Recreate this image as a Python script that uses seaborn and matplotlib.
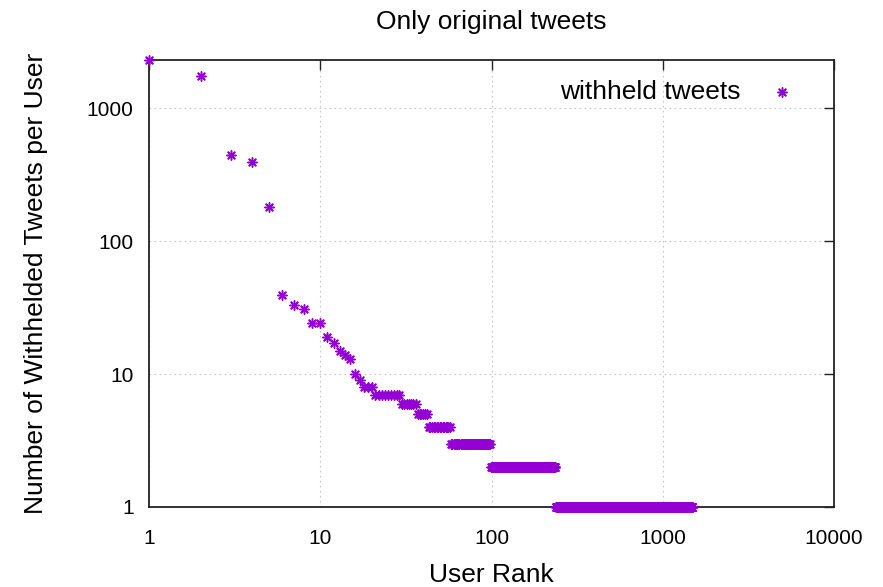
import numpy as np
import pandas as pd
import matplotlib
matplotlib.use("Agg")
import matplotlib.pyplot as plt
import seaborn as sns
from matplotlib.ticker import FixedLocator, NullLocator

# Withheld tweets of the most affected users, in rank order
top_user_counts = [2300, 1740, 443, 393, 180, 39, 33, 31, 24, 24,
                   19, 17, 15, 14, 13, 10, 9, 8, 8, 8]
# Remaining users share small counts: value -> number of users with it
tied_values = [7, 6, 5, 4, 3, 2, 1]
tied_users = [9, 7, 6, 15, 41, 138, 1244]

x_ticks = [1, 10, 100, 1000, 10000]
x_tick_labels = ["1", "10", "100", "1000", "10000"]
y_ticks = [1, 10, 100, 1000]
y_tick_labels = ["1", "10", "100", "1000"]

counts = np.concatenate([top_user_counts, np.repeat(tied_values, tied_users)])
df = pd.DataFrame({"rank": np.arange(1, len(counts) + 1), "count": counts})

sns.set_theme(style="white")
plt.rcParams["font.family"] = ["Liberation Sans", "DejaVu Sans"]
plt.rcParams["text.color"] = "black"
plt.rcParams["axes.labelcolor"] = "black"
plt.rcParams["xtick.color"] = "black"
plt.rcParams["ytick.color"] = "black"

fig = plt.figure(figsize=(8.83, 5.87), dpi=100)
ax = fig.add_axes([149 / 883, 1 - 507 / 587, (834 - 149) / 883, (507 - 60) / 587])

purple = "#9400D3"
sns.scatterplot(data=df, x="rank", y="count", ax=ax, marker=(8, 2, 0),
                color=purple, edgecolor=purple, s=45, linewidth=1.1,
                label="withheld tweets", clip_on=False, zorder=3)

ax.set_xscale("log")
ax.set_yscale("log")
ax.set_xlim(1, 10000)
ax.set_ylim(1, 2300)

ax.xaxis.set_major_locator(FixedLocator(x_ticks))
ax.xaxis.set_minor_locator(NullLocator())
ax.set_xticklabels(x_tick_labels)
ax.yaxis.set_major_locator(FixedLocator(y_ticks))
ax.yaxis.set_minor_locator(NullLocator())
ax.set_yticklabels(y_tick_labels)

ax.tick_params(axis="both", which="major", direction="in", length=7, width=1,
               color="#222222", labelcolor="black", labelsize=15,
               top=True, right=True)
ax.tick_params(axis="x", pad=16)
ax.tick_params(axis="y", pad=11)

ax.grid(True, which="major", color="#c4c4c4", linestyle=(0, (1.5, 3)), linewidth=0.8)
ax.set_axisbelow(True)
for sp in ax.spines.values():
    sp.set_visible(True)
    sp.set_color("#222222")
    sp.set_linewidth(1.3)

ax.set_xlabel("User Rank", fontsize=19, labelpad=11, color="black")
ax.set_ylabel("Number of Withhelded Tweets per User", fontsize=19, labelpad=28,
              color="black")
ax.set_title("Only original tweets", fontsize=19, pad=22, color="black")

leg = ax.legend(loc="upper right", bbox_to_anchor=(0.985, 0.99), frameon=False,
                markerfirst=False, fontsize=19, handletextpad=0.55,
                markerscale=1.0, borderaxespad=0.2)
for t in leg.get_texts():
    t.set_color("black")

fig.savefig("out.png", dpi=100)
